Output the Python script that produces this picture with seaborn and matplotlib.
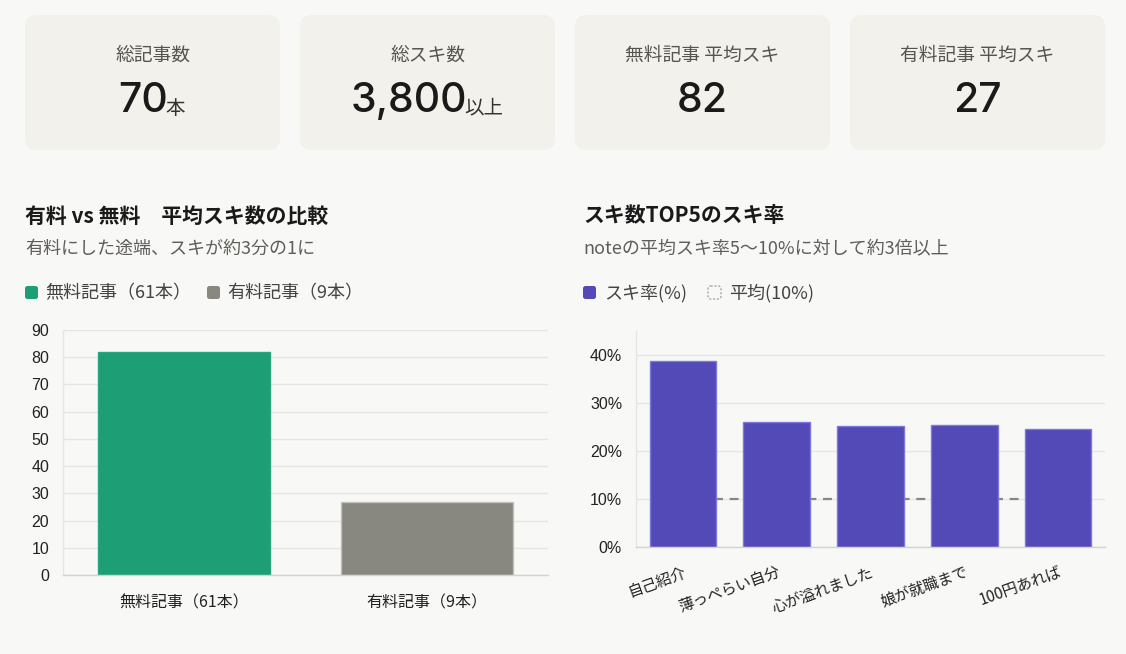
import numpy as np
import pandas as pd
import seaborn as sns
import matplotlib.pyplot as plt
from matplotlib.patches import FancyBboxPatch
from matplotlib.ticker import FuncFormatter

# summary cards
card_labels = ["総記事数", "総スキ数", "無料記事 平均スキ", "有料記事 平均スキ"]
card_values = ["70", "3,800", "82", "27"]
card_units = ["本", "以上", "", ""]

# left chart: average likes, free vs paid
kinds = ["無料記事（61本）", "有料記事（9本）"]
avg_likes = [82, 27]

# right chart: like rate of top 5 articles
top_titles = ["自己紹介", "薄っぺらい自分", "心が溢れました", "娘が就職まで", "100円あれば"]
like_rate = [38.7, 26.1, 25.3, 25.4, 24.6]
avg_rate = [10, 10, 10, 10, 10]

BG = "#f8f8f6"
CARD = "#f2f1eb"
GREEN = "#1d9e75"
GRAY = "#888780"
PURPLE = "#534ab7"
GRID = "#e5e5e2"
JP = ["Noto Sans CJK JP", "DejaVu Sans"]
NUM = ["Liberation Sans", "Noto Sans CJK JP"]
BIG = ["Inter", "Noto Sans CJK JP"]

sns.set_theme(style="white")
plt.rcParams["font.family"] = JP

W, H = 1126, 654
fig = plt.figure(figsize=(W / 100, H / 100), dpi=100, facecolor=BG)

# full-figure layer in pixel units for cards, titles and legends
bg = fig.add_axes([0, 0, 1, 1], zorder=-1)
bg.set_xlim(0, W)
bg.set_ylim(H, 0)
bg.axis("off")
bg.set_facecolor(BG)

card_x = [25, 300, 575, 850]
for x0, lab, val, unit in zip(card_x, card_labels, card_values, card_units):
    bg.add_patch(FancyBboxPatch((x0, 15), 255, 135, boxstyle="round,pad=0,rounding_size=12",
                                fc=CARD, ec="none"))
    cx = x0 + 127.5
    bg.text(cx, 55, lab, ha="center", va="center", fontsize=13.5, color="#555550")
    t = bg.text(cx, 101, val, ha="center", va="center", fontsize=29.5, color="#1a1a1a",
                family=BIG, fontweight="medium")
    if unit:
        fig.canvas.draw()
        bb = t.get_window_extent().transformed(bg.transData.inverted())
        shift = 19 * len(unit) / 2
        t.set_x(cx - shift)
        bg.text(bb.x1 - shift - 2, 108, unit, ha="left", va="center", fontsize=14, color="#333330")

# titles
bg.text(25, 216, "有料 vs 無料　平均スキ数の比較", fontsize=15, fontweight="bold",
        color="#1a1a1a", va="center")
bg.text(25, 249, "有料にした途端、スキが約3分の1に", fontsize=13, color="#5f5e5a", va="center")
bg.text(583, 216, "スキ数TOP5のスキ率", fontsize=15, fontweight="bold",
        color="#1a1a1a", va="center")
bg.text(583, 249, "noteの平均スキ率5〜10%に対して約3倍以上", fontsize=13, color="#5f5e5a", va="center")


# legends
def sw(x, y, fc, ec="none", ls="-"):
    bg.add_patch(FancyBboxPatch((x, y - 7), 13, 13, boxstyle="round,pad=0,rounding_size=2.5",
                                fc=fc, ec=ec, ls=ls, lw=0.8))


sw(25, 293, GREEN)
bg.text(45, 293, kinds[0], fontsize=13, color="#444441", va="center")
sw(207, 293, GRAY)
bg.text(227, 293, kinds[1], fontsize=13, color="#444441", va="center")
sw(583, 293, PURPLE)
bg.text(604, 293, "スキ率(%)", fontsize=13, color="#444441", va="center")
sw(708, 293, "none", ec="#999994", ls=(0, (2, 1.5)))
bg.text(729, 293, "平均(10%)", fontsize=13, color="#444441", va="center")


def style_axes(ax):
    ax.set_facecolor("none")
    ax.grid(axis="y", color=GRID, lw=1)
    ax.grid(axis="x", visible=False)
    ax.set_axisbelow(True)
    for s in ["top", "right"]:
        ax.spines[s].set_visible(False)
    ax.spines["left"].set_color(GRID)
    ax.spines["bottom"].set_color("#d3d3cf")
    ax.spines["left"].set_linewidth(1)
    ax.spines["bottom"].set_linewidth(1)
    ax.tick_params(axis="y", length=7, color=GRID, pad=3, labelsize=11.5, labelcolor="#222222")
    ax.tick_params(axis="x", length=0, labelsize=11.5, labelcolor="#222222")
    for lab in ax.get_yticklabels():
        lab.set_family(NUM)
    ax.set_xlabel("")
    ax.set_ylabel("")


# left chart
ax1 = fig.add_axes([63 / W, 1 - 575 / H, 485 / W, 245 / H])
df1 = pd.DataFrame({"kind": kinds, "likes": avg_likes})
sns.barplot(data=df1, x="kind", y="likes", hue="kind", palette=[GREEN, GRAY],
            width=0.71, legend=False, ax=ax1, saturation=1)
for p, ec in zip(ax1.patches, ["#2aa57f", "#c2c0b8"]):
    p.set_edgecolor(ec)
    p.set_linewidth(1)
ax1.set_ylim(0, 90)
ax1.set_xlim(-0.5, 1.5)
ax1.set_yticks(range(0, 91, 10))
style_axes(ax1)
ax1.tick_params(axis="x", pad=14)

# right chart
ax2 = fig.add_axes([636 / W, 1 - 547 / H, 469 / W, 216 / H])
df2 = pd.DataFrame({"title": top_titles, "rate": like_rate})
ax2.plot(np.arange(len(top_titles)), avg_rate, color=GRAY, lw=1.6, ls=(0, (4, 3)), zorder=1)
sns.barplot(data=df2, x="title", y="rate", color=PURPLE, width=0.71, ax=ax2, saturation=1,
            edgecolor="#7f77dd", linewidth=1, zorder=2)
ax2.set_ylim(0, 45)
ax2.set_xlim(-0.5, 4.5)
ax2.set_yticks(range(0, 41, 10))
ax2.yaxis.set_major_formatter(FuncFormatter(lambda v, p: f"{v:.0f}%"))
style_axes(ax2)
ax2.tick_params(axis="x", pad=12, labelsize=11)
for lab in ax2.get_xticklabels():
    lab.set_rotation(20)
    lab.set_ha("right")
    lab.set_rotation_mode("anchor")
    lab.set_va("top")
for lab in ax2.get_yticklabels():
    lab.set_family(NUM)

fig.savefig("out.png", dpi=100, facecolor=BG)
